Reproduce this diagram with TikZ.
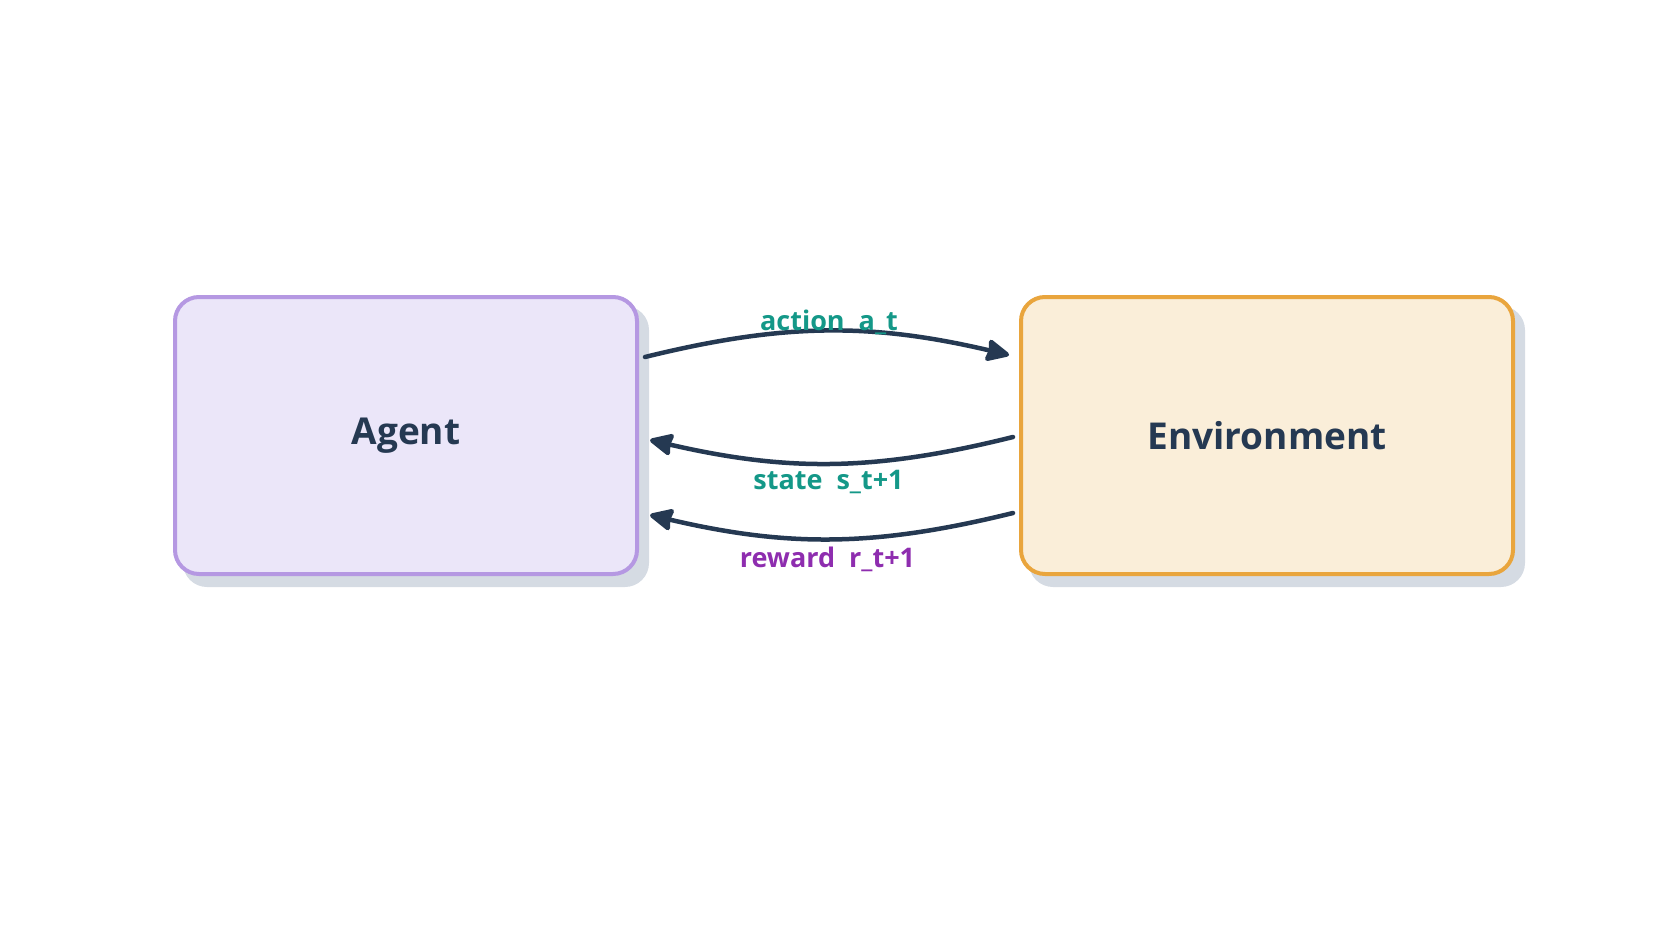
\documentclass[tikz,border=0pt]{standalone}
\usepackage{fontspec}
\setmainfont{Open Sans}
\usetikzlibrary{arrows.meta,calc}
\definecolor{navy}{RGB}{37,57,82}
\definecolor{agentfill}{RGB}{235,230,249}
\definecolor{agentdraw}{RGB}{181,152,226}
\definecolor{envfill}{RGB}{250,238,217}
\definecolor{envdraw}{RGB}{233,165,61}
\definecolor{shadowc}{RGB}{213,219,227}
\definecolor{tealc}{RGB}{20,152,136}
\definecolor{purplec}{RGB}{142,45,175}
\tikzset{
  box/.style={rectangle, rounded corners=24pt, line width=4pt, inner sep=0pt,
    font=\fontsize{37}{44}\selectfont\bfseries, text=navy},
  shadowbox/.style={rectangle, rounded corners=24pt, fill=shadowc, draw=none, inner sep=0pt},
  flow/.style={draw=navy, line width=4.5pt, line cap=round,
    -{Stealth[length=26pt,width=24pt,inset=2pt,round]}},
  lbl/.style={font=\fontsize{27}{32}\selectfont\bfseries, anchor=base, inner sep=0pt}
}
\begin{document}
\begin{tikzpicture}[x=1pt,y=-1pt]
\useasboundingbox (0,0) rectangle (1673,934);
% shadows
\node[shadowbox, minimum width=466pt, minimum height=281pt] (agentsh) at (416,446.5) {};
\node[shadowbox, minimum width=496pt, minimum height=281pt] (envsh) at (1277,446.5) {};
% boxes
\node[box, fill=agentfill, draw=agentdraw, minimum width=462pt, minimum height=277pt] (agent) at (406,435.5) {Agent};
\node[box, fill=envfill, draw=envdraw, minimum width=492pt, minimum height=277pt] (env) at (1267,435.5) {Environment};
% connectors
\draw[flow] ($(agent.east)+(6,-78.5)$) to[bend left=13.5] ($(env.west)+(-10,-80.5)$);
\draw[flow] ($(env.west)+(-6,1.5)$) to[bend left=13.5] ($(agent.east)+(11,4.5)$);
\draw[flow] ($(env.west)+(-6,77.5)$) to[bend left=13.5] ($(agent.east)+(11,79.5)$);
% labels
\node[lbl, text=tealc] (lact) at (829,330) {action\ \ a\_t};
\node[lbl, text=tealc] (lstate) at (828.5,489) {state\ \ s\_t+1};
\node[lbl, text=purplec] (lrew) at (827.5,567) {reward\ \ r\_t+1};
\end{tikzpicture}
\end{document}
